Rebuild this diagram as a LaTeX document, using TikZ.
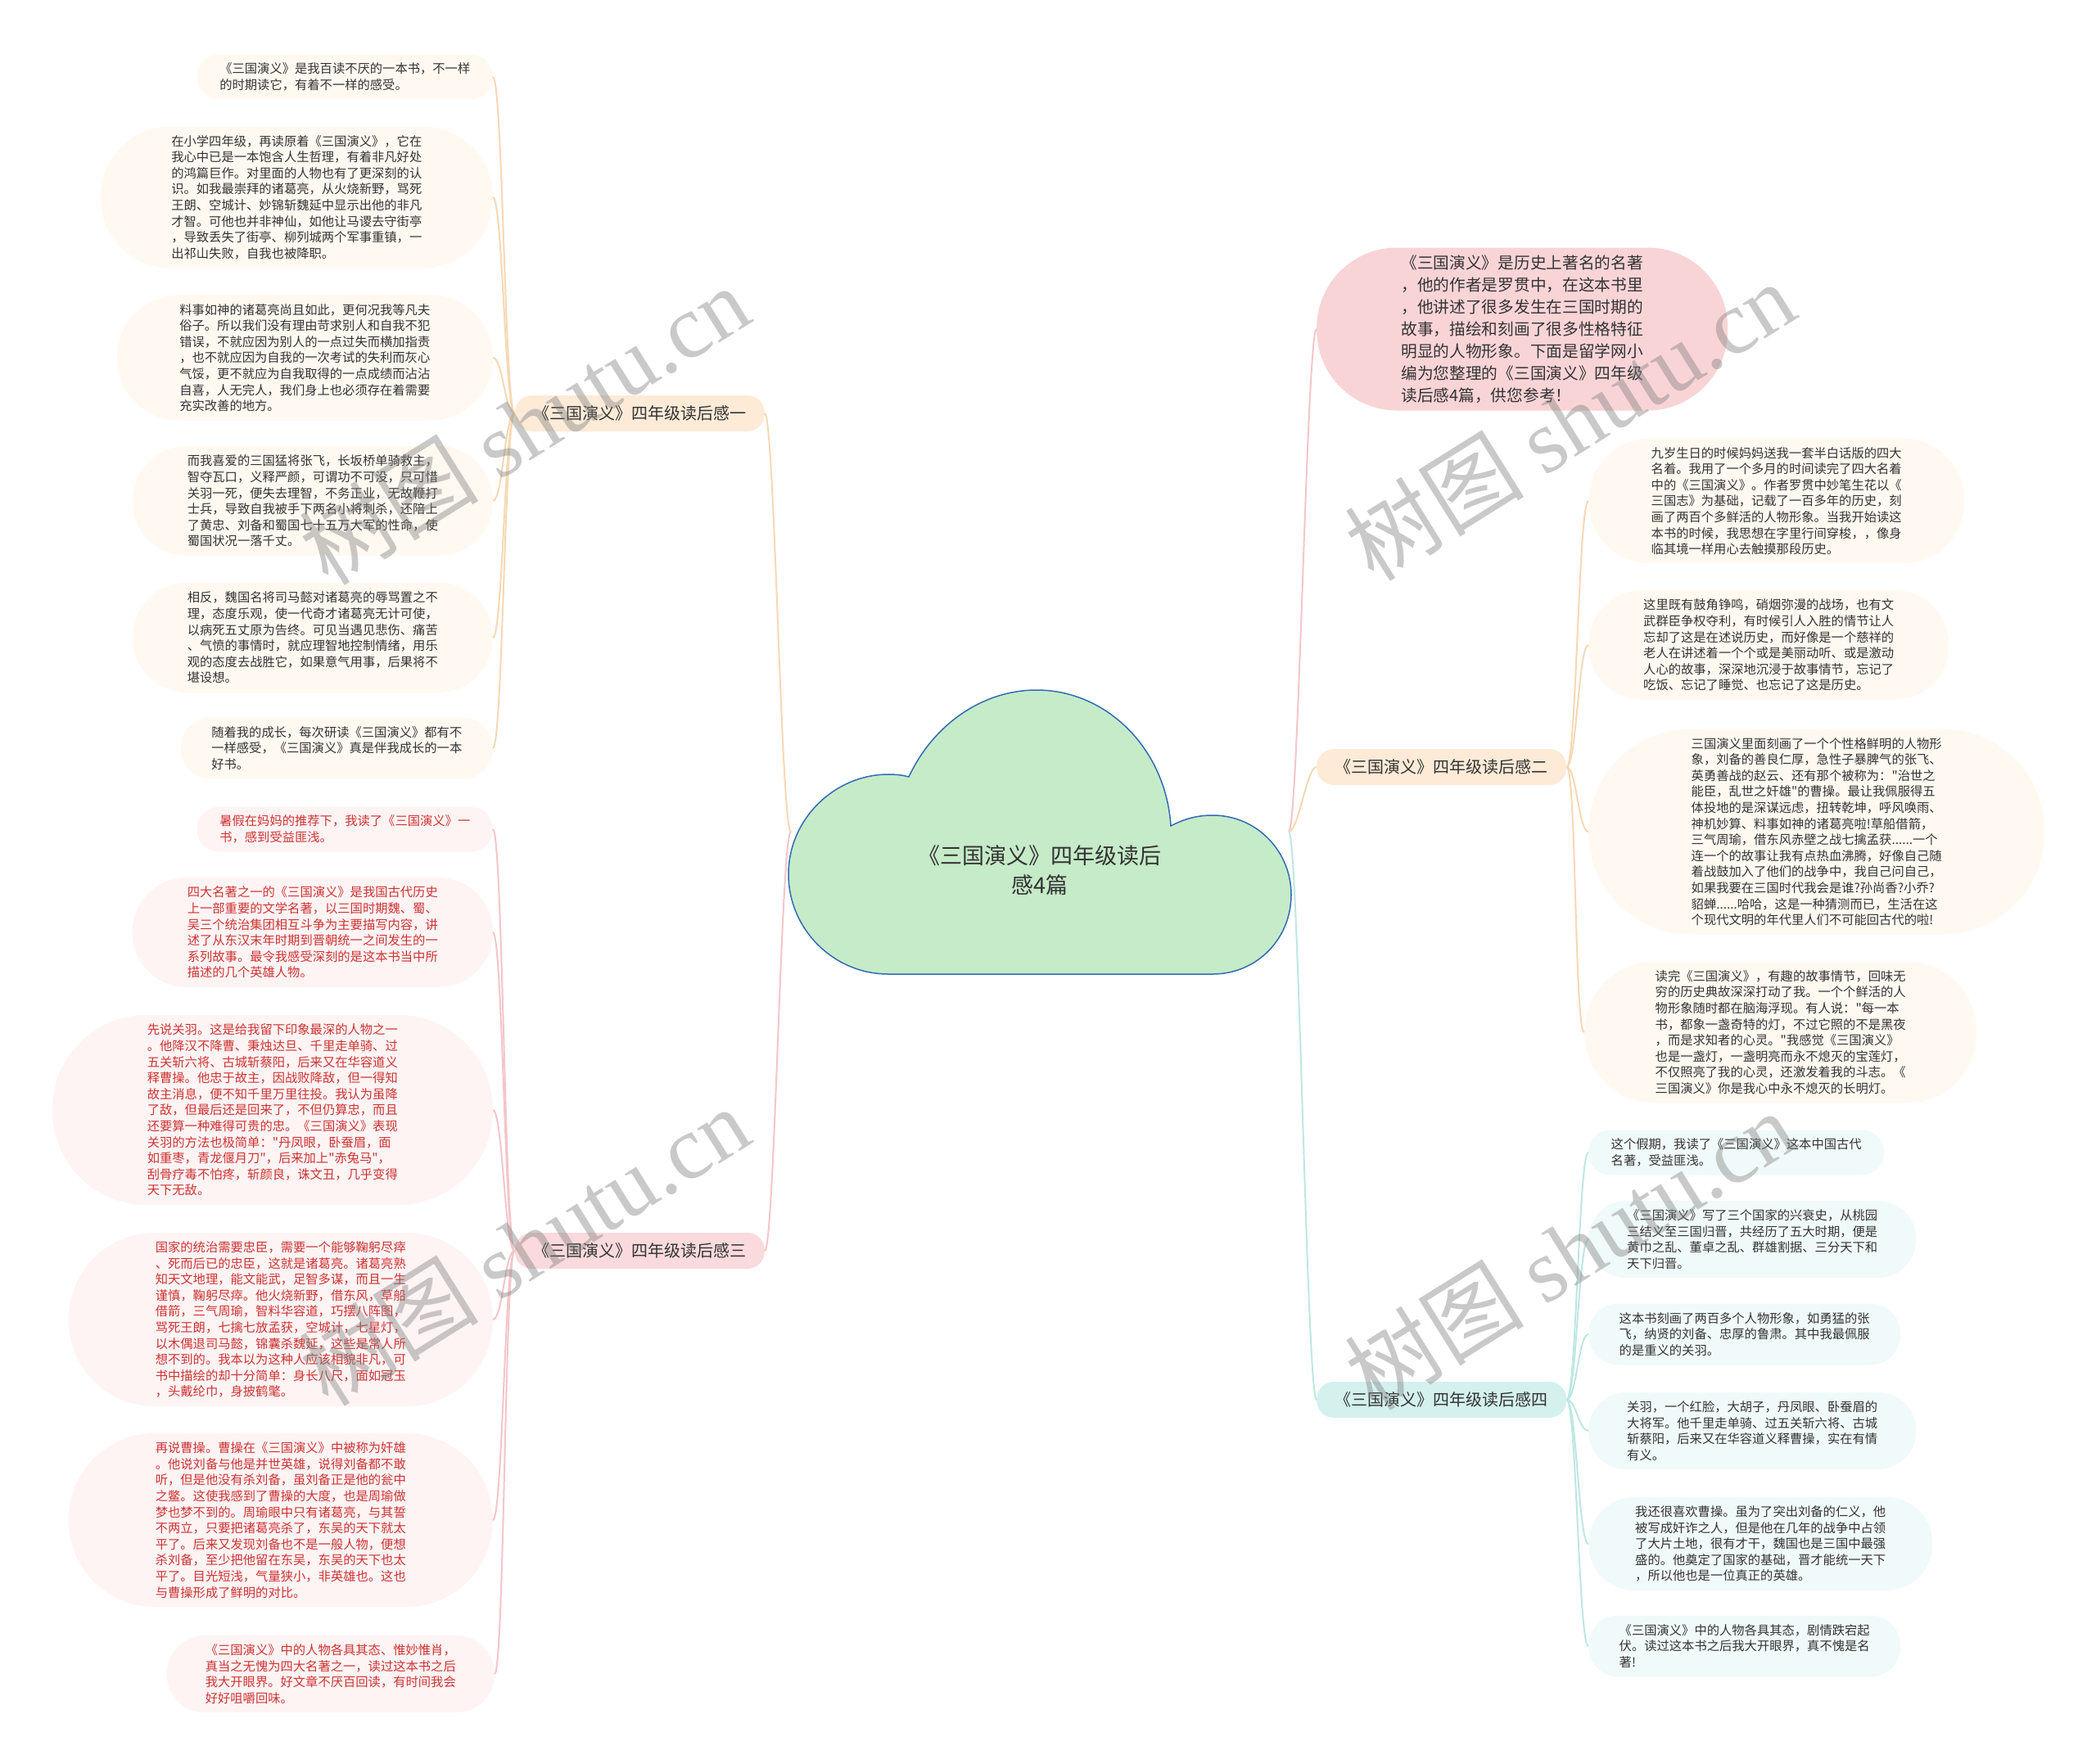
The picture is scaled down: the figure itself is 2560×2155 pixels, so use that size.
\documentclass[tikz,border=0pt]{standalone}
\usepackage{fontspec}
\setmainfont{Noto Sans CJK SC}[Ligatures=TeXOff]
\newfontfamily\markfont{Liberation Serif}
\usetikzlibrary{positioning}
\definecolor{ink}{HTML}{333333}
\definecolor{redink}{HTML}{CC3333}
\definecolor{peach}{HTML}{FDEBD8}
\definecolor{rose}{HTML}{FADADC}
\definecolor{aqua}{HTML}{D4F1EE}
\definecolor{peachline}{HTML}{F7D8B5}
\definecolor{roseline}{HTML}{F4C6C9}
\definecolor{aqualine}{HTML}{BFE7E2}
\definecolor{cream}{HTML}{FFF9F1}
\definecolor{blush}{HTML}{FFF4F4}
\definecolor{mist}{HTML}{F1FAFA}
\definecolor{leafgreen}{HTML}{C6EBC8}
\definecolor{cloudedge}{HTML}{2F6DB5}
\definecolor{introfill}{HTML}{F9D4D7}

\begin{document}
\begin{tikzpicture}[
  x=1pt, y=-1pt,
  link/.style={draw=#1, line width=2pt},
  note/.style={align=left, inner sep=0pt, text=ink,
    font=\fontsize{15.3}{19.6}\selectfont,
    minimum height=#1, minimum width=306+#1, rounded corners=#1/2-1},
  noteone/.style={note=#1, fill=cream, anchor=east},
  notethree/.style={note=#1, fill=blush, text=redink, anchor=east},
  notetwo/.style={note=#1, fill=cream, anchor=west},
  notefour/.style={note=#1, fill=mist, anchor=west},
  branch/.style={rounded corners=21, minimum width=305, minimum height=44,
    inner sep=0pt, text=ink, font=\fontsize{20}{24}\selectfont},
  intro/.style={fill=introfill, anchor=west, align=left, inner sep=0pt, text=ink,
    minimum width=502, minimum height=199, rounded corners=98,
    font=\fontsize{19.7}{27}\selectfont},
  rootcloud/.style={fill=leafgreen, draw=cloudedge, line width=1.5pt},
  watermark/.style={rotate=32, text=black!50, text opacity=0.42,
    font=\fontsize{110}{110}\selectfont}
]
\fill[white] (0,0) rectangle (2560,2155);
\useasboundingbox (0,0) rectangle (2560,2155);

% left side: 读后感一
\node[branch, fill=peach, anchor=east] (b1) at (934,505) {《三国演义》四年级读后感一};
\node[noteone=55] (l1) at (602,94) {《三国演义》是我百读不厌的一本书，不一样\\的时期读它，有着不一样的感受。};
\node[noteone=173] (l2) at (602,241) {在小学四年级，再读原着《三国演义》，它在\\我心中已是一本饱含人生哲理，有着非凡好处\\的鸿篇巨作。对里面的人物也有了更深刻的认\\识。如我最崇拜的诸葛亮，从火烧新野，骂死\\王朗、空城计、妙锦斩魏延中显示出他的非凡\\才智。可他也并非神仙，如他让马谡去守街亭\\，导致丢失了街亭、柳列城两个军事重镇，一\\出祁山失败，自我也被降职。};
\node[noteone=153] (l3) at (602,437) {料事如神的诸葛亮尚且如此，更何况我等凡夫\\俗子。所以我们没有理由苛求别人和自我不犯\\错误，不就应因为别人的一点过失而横加指责\\，也不就应因为自我的一次考试的失利而灰心\\气馁，更不就应为自我取得的一点成绩而沾沾\\自喜，人无完人，我们身上也必须存在着需要\\充实改善的地方。};
\node[noteone=134] (l4) at (602,612) {而我喜爱的三国猛将张飞，长坂桥单骑救主，\\智夺瓦口，义释严颜，可谓功不可没，只可惜\\关羽一死，便失去理智，不务正业，无故鞭打\\士兵，导致自我被手下两名小将刺杀，还陪上\\了黄忠、刘备和蜀国七十五万大军的性命，使\\蜀国状况一落千丈。};
\node[noteone=134] (l5) at (602,779) {相反，魏国名将司马懿对诸葛亮的辱骂置之不\\理，态度乐观，使一代奇才诸葛亮无计可使，\\以病死五丈原为告终。可见当遇见悲伤、痛苦\\、气愤的事情时，就应理智地控制情绪，用乐\\观的态度去战胜它，如果意气用事，后果将不\\堪设想。};
\node[noteone=75] (l6) at (602,914) {随着我的成长，每次研读《三国演义》都有不\\一样感受，《三国演义》真是伴我成长的一本\\好书。};

% left side: 读后感三
\node[branch, fill=rose, anchor=east] (b3) at (934,1528) {《三国演义》四年级读后感三};
\node[notethree=55] (l7) at (602,1013) {暑假在妈妈的推荐下，我读了《三国演义》一\\书，感到受益匪浅。};
\node[notethree=134] (l8) at (602,1139) {四大名著之一的《三国演义》是我国古代历史\\上一部重要的文学名著，以三国时期魏、蜀、\\吴三个统治集团相互斗争为主要描写内容，讲\\述了从东汉末年时期到晋朝统一之间发生的一\\系列故事。最令我感受深刻的是这本书当中所\\描述的几个英雄人物。};
\node[notethree=232] (l9) at (602,1356) {先说关羽。这是给我留下印象最深的人物之一\\。他降汉不降曹、秉烛达旦、千里走单骑、过\\五关斩六将、古城斩蔡阳，后来又在华容道义\\释曹操。他忠于故主，因战败降敌，但一得知\\故主消息，便不知千里万里往投。我认为虽降\\了敌，但最后还是回来了，不但仍算忠，而且\\还要算一种难得可贵的忠。《三国演义》表现\\关羽的方法也极简单："丹凤眼，卧蚕眉，面\\如重枣，青龙偃月刀"，后来加上"赤兔马"，\\刮骨疗毒不怕疼，斩颜良，诛文丑，几乎变得\\天下无敌。};
\node[notethree=212] (l10) at (602,1612) {国家的统治需要忠臣，需要一个能够鞠躬尽瘁\\、死而后已的忠臣，这就是诸葛亮。诸葛亮熟\\知天文地理，能文能武，足智多谋，而且一生\\谨慎，鞠躬尽瘁。他火烧新野，借东风，草船\\借箭，三气周瑜，智料华容道，巧摆八阵图，\\骂死王朗，七擒七放孟获，空城计，七星灯，\\以木偶退司马懿，锦囊杀魏延，这些是常人所\\想不到的。我本以为这种人应该相貌非凡，可\\书中描绘的却十分简单：身长八尺，面如冠玉\\，头戴纶巾，身披鹤氅。};
\node[notethree=212] (l11) at (602,1857) {再说曹操。曹操在《三国演义》中被称为奸雄\\。他说刘备与他是并世英雄，说得刘备都不敢\\听，但是他没有杀刘备，虽刘备正是他的瓮中\\之鳖。这使我感到了曹操的大度，也是周瑜做\\梦也梦不到的。周瑜眼中只有诸葛亮，与其誓\\不两立，只要把诸葛亮杀了，东吴的天下就太\\平了。后来又发现刘备也不是一般人物，便想\\杀刘备，至少把他留在东吴，东吴的天下也太\\平了。目光短浅，气量狭小，非英雄也。这也\\与曹操形成了鲜明的对比。};
\node[notethree=94] (l12) at (604,2045) {《三国演义》中的人物各具其态、惟妙惟肖，\\真当之无愧为四大名著之一，读过这本书之后\\我大开眼界。好文章不厌百回读，有时间我会\\好好咀嚼回味。};

% right side: intro
\node[intro] (intro) at (1608,402) {《三国演义》是历史上著名的名著\\，他的作者是罗贯中，在这本书里\\，他讲述了很多发生在三国时期的\\故事，描绘和刻画了很多性格特征\\明显的人物形象。下面是留学网小\\编为您整理的《三国演义》四年级\\读后感4篇，供您参考！};

% right side: 读后感二
\node[branch, fill=peach, anchor=west] (b2) at (1608,937) {《三国演义》四年级读后感二};
\node[notetwo=153] (r1) at (1940,612) {九岁生日的时候妈妈送我一套半白话版的四大\\名着。我用了一个多月的时间读完了四大名着\\中的《三国演义》。作者罗贯中妙笔生花以《\\三国志》为基础，记载了一百多年的历史，刻\\画了两百个多鲜活的人物形象。当我开始读这\\本书的时候，我思想在字里行间穿梭，，像身\\临其境一样用心去触摸那段历史。};
\node[notetwo=134] (r2) at (1940,788) {这里既有鼓角铮鸣，硝烟弥漫的战场，也有文\\武群臣争权夺利，有时候引人入胜的情节让人\\忘却了这是在述说历史，而好像是一个慈祥的\\老人在讲述着一个个或是美丽动听、或是激动\\人心的故事，深深地沉浸于故事情节，忘记了\\吃饭、忘记了睡觉、也忘记了这是历史。};
\node[notetwo=251] (r3) at (1940,1016) {三国演义里面刻画了一个个性格鲜明的人物形\\象，刘备的善良仁厚，急性子暴脾气的张飞、\\英勇善战的赵云、还有那个被称为："治世之\\能臣，乱世之奸雄"的曹操。最让我佩服得五\\体投地的是深谋远虑，扭转乾坤，呼风唤雨、\\神机妙算、料事如神的诸葛亮啦!草船借箭，\\三气周瑜，借东风赤壁之战七擒孟获......一个\\连一个的故事让我有点热血沸腾，好像自己随\\着战鼓加入了他们的战争中，我自己问自己，\\如果我要在三国时代我会是谁?孙尚香?小乔?\\貂蝉......哈哈，这是一种猜测而已，生活在这\\个现代文明的年代里人们不可能回古代的啦!};
\node[notetwo=173] (r4) at (1935,1261) {读完《三国演义》，有趣的故事情节，回味无\\穷的历史典故深深打动了我。一个个鲜活的人\\物形象随时都在脑海浮现。有人说："每一本\\书，都象一盏奇特的灯，不过它照的不是黑夜\\，而是求知者的心灵。"我感觉《三国演义》\\也是一盏灯，一盏明亮而永不熄灭的宝莲灯，\\不仅照亮了我的心灵，还激发着我的斗志。《\\三国演义》你是我心中永不熄灭的长明灯。};

% right side: 读后感四
\node[branch, fill=aqua, anchor=west] (b4) at (1608,1710) {《三国演义》四年级读后感四};
\node[notefour=55] (r5) at (1940,1408) {这个假期，我读了《三国演义》这本中国古代\\名著，受益匪浅。};
\node[notefour=94] (r6) at (1940,1514) {《三国演义》写了三个国家的兴衰史，从桃园\\三结义至三国归晋，共经历了五大时期，便是\\黄巾之乱、董卓之乱、群雄割据、三分天下和\\天下归晋。};
\node[notefour=75] (r7) at (1940,1630) {这本书刻画了两百多个人物形象，如勇猛的张\\飞，纳贤的刘备、忠厚的鲁肃。其中我最佩服\\的是重义的关羽。};
\node[notefour=94] (r8) at (1940,1748) {关羽，一个红脸，大胡子，丹凤眼、卧蚕眉的\\大将军。他千里走单骑、过五关斩六将、古城\\斩蔡阳，后来又在华容道义释曹操，实在有情\\有义。};
\node[notefour=114] (r9) at (1940,1886) {我还很喜欢曹操。虽为了突出刘备的仁义，他\\被写成奸诈之人，但是他在几年的战争中占领\\了大片土地，很有才干，魏国也是三国中最强\\盛的。他奠定了国家的基础，晋才能统一天下\\，所以他也是一位真正的英雄。};
\node[notefour=75] (r10) at (1940,2011) {《三国演义》中的人物各具其态，剧情跌宕起\\伏。读过这本书之后我大开眼界，真不愧是名\\著!};

% connectors
\coordinate (rootwest) at (966,1016);
\coordinate (rooteast) at (1574,1016);
\foreach \leaf in {l1,l2,l3,l4,l5,l6}
  \draw[link=peachline] (b1.west) .. controls +(-12,0) and +(12,0) .. (\leaf.east);
\foreach \leaf in {l7,l8,l9,l10,l11,l12}
  \draw[link=roseline] (b3.west) .. controls +(-12,0) and +(12,0) .. (\leaf.east);
\foreach \leaf in {r1,r2,r3,r4}
  \draw[link=peachline] (b2.east) .. controls +(12,0) and +(-12,0) .. (\leaf.west);
\foreach \leaf in {r5,r6,r7,r8,r9,r10}
  \draw[link=aqualine] (b4.east) .. controls +(12,0) and +(-12,0) .. (\leaf.west);
\draw[link=peachline] (rootwest) .. controls +(-12,0) and +(12,0) .. (b1.east);
\draw[link=roseline] (rootwest) .. controls +(-12,0) and +(12,0) .. (b3.east);
\draw[link=roseline] (rooteast) .. controls +(12,0) and +(-12,0) .. (intro.west);
\draw[link=peachline] (rooteast) .. controls +(12,0) and +(-12,0) .. (b2.west);
\draw[link=aqualine] (rooteast) .. controls +(12,0) and +(-12,0) .. (b4.west);

% central cloud
\draw[rootcloud] (1085,1190)
  .. controls (1018,1190) and (963,1135) .. (963,1068)
  .. controls (963,1000) and (1020,946) .. (1085,946)
  .. controls (1095,946) and (1103,947) .. (1110,949)
  .. controls (1140,885) and (1200,843) .. (1266,843)
  .. controls (1352,843) and (1424,915) .. (1430,1009)
  .. controls (1447,1000) and (1463,996) .. (1481,996)
  .. controls (1535,996) and (1577,1040) .. (1577,1093)
  .. controls (1577,1147) and (1535,1190) .. (1481,1190)
  -- cycle;
\node[align=center, text=ink, font=\fontsize{27}{36}\selectfont] (root) at (1270,1063) {《三国演义》四年级读后\\感4篇};

% watermarks
\foreach \wx/\wy [count=\i] in {640/519, 640/1522, 1917/514, 1917/1527}
  \node[watermark] (mark\i) at (\wx,\wy) {树图 {\markfont shutu.cn}};
\end{tikzpicture}
\end{document}
